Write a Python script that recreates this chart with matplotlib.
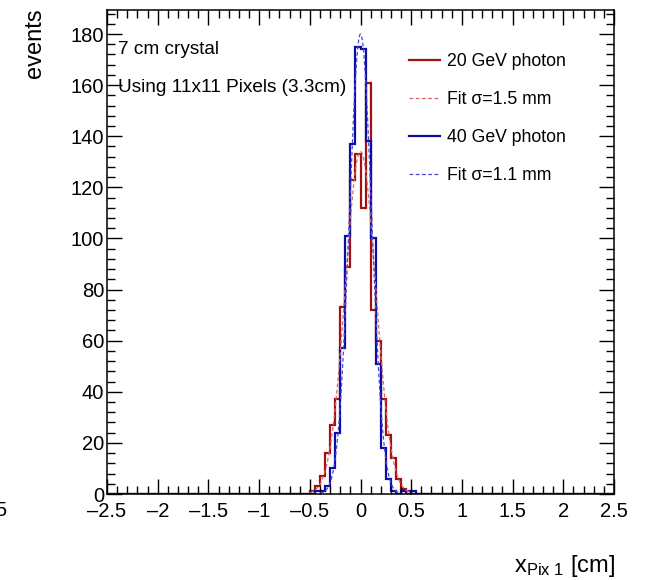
import numpy as np
import matplotlib.pyplot as plt
from matplotlib.ticker import MultipleLocator, FuncFormatter
from matplotlib.lines import Line2D

plt.rcParams['font.family'] = ['Liberation Sans', 'DejaVu Sans']
plt.rcParams['mathtext.fontset'] = 'custom'
plt.rcParams['mathtext.rm'] = 'Liberation Sans'
plt.rcParams['mathtext.it'] = 'Liberation Sans'

# histogram binning: 100 bins over [-2.5, 2.5] cm, only the middle ones are filled
x_min, x_max, n_bins = -2.5, 2.5, 100
first_filled = -0.5   # left edge of the first listed bin
counts_20gev = [1, 3, 7, 16, 27, 37, 73, 89, 123, 133, 112, 161, 72, 60, 37, 23, 14, 6, 2, 1, 0]
counts_40gev = [0, 1, 1, 3, 10, 24, 57, 101, 137, 175, 174, 138, 100, 51, 18, 6, 1, 0, 1, 0, 1]

# gaussian fits: (amplitude, mean [cm], sigma [cm]) and fit range
fit_20gev = (134, 0.0, 0.15)
fit_40gev = (180, 0.0, 0.11)
range_20gev = (-0.5, 0.5)
range_40gev = (-0.4, 0.4)

labels = ['20 GeV photon', 'Fit \u03c3=1.5 mm', '40 GeV photon', 'Fit \u03c3=1.1 mm']
notes = ['7 cm crystal', 'Using 11x11 Pixels (3.3cm)']

red = '#a31010'
red_fit = '#d06a6a'
blue = '#0c0ca6'
blue_fit = '#4a4ad0'


def full_hist(counts):
    edges = np.linspace(x_min, x_max, n_bins + 1)
    h = np.zeros(n_bins)
    i0 = int(round((first_filled - x_min) / (edges[1] - edges[0])))
    h[i0:i0 + len(counts)] = counts
    return h, edges


def gauss(par, rng):
    a, mu, s = par
    xs = np.linspace(rng[0], rng[1], 200)
    return xs, a * np.exp(-0.5 * ((xs - mu) / s) ** 2)


W, H = 651, 580
L, R, T, B = 107, 614, 10, 494   # axes frame in pixels
fig = plt.figure(figsize=(W / 100, H / 100), dpi=100)
ax = fig.add_axes([L / W, 1 - B / H, (R - L) / W, (B - T) / H])


def px(x, y):
    # pixel position -> axes fraction
    return (x - L) / (R - L), (B - y) / (B - T)


h_red, edges = full_hist(counts_20gev)
h_blue, _ = full_hist(counts_40gev)
ax.stairs(h_red, edges, color=red, lw=1.6)
xs, ys = gauss(fit_20gev, range_20gev)
ax.plot(xs, ys, color=red_fit, lw=0.9, ls=(0, (3, 2)))
ax.stairs(h_blue, edges, color=blue, lw=1.6)
xs, ys = gauss(fit_40gev, range_40gev)
ax.plot(xs, ys, color=blue_fit, lw=0.9, ls=(0, (3, 2)))

ax.set_xlim(x_min, x_max)
ax.set_ylim(0, 189.4)
ax.xaxis.set_major_locator(MultipleLocator(0.5))
ax.xaxis.set_minor_locator(MultipleLocator(0.1))
ax.yaxis.set_major_locator(MultipleLocator(20))
ax.yaxis.set_minor_locator(MultipleLocator(4))
fmt = FuncFormatter(lambda v, p: ('%g' % v).replace('-', '\u2013'))
ax.xaxis.set_major_formatter(fmt)
ax.yaxis.set_major_formatter(fmt)
ax.tick_params(which='both', direction='in', top=True, right=True, width=1, labelsize=14.5)
ax.tick_params(which='major', length=10.5)
ax.tick_params(which='minor', length=5.8)
ax.tick_params(axis='x', which='major', pad=6)
ax.tick_params(axis='y', which='major', pad=2)
for sp in ax.spines.values():
    sp.set_linewidth(1.1)

# legend
handles = [Line2D([], [], color=red, lw=1.6),
           Line2D([], [], color=red_fit, lw=0.9, ls=(0, (3, 2))),
           Line2D([], [], color=blue, lw=1.6),
           Line2D([], [], color=blue_fit, lw=0.9, ls=(0, (3, 2)))]
ax.legend(handles, labels, loc='upper left', bbox_to_anchor=px(409, 53),
          frameon=False, fontsize=12.7, handlelength=1.75, handletextpad=0.4,
          labelspacing=1.2, borderpad=0, borderaxespad=0)

ax.text(*px(118, 50), notes[0], transform=ax.transAxes,
        fontsize=13.7, va='center', ha='left')
ax.text(*px(118, 87), notes[1], transform=ax.transAxes,
        fontsize=13.7, va='center', ha='left')

fig.text(35 / W, 1 - 8 / H, 'events', rotation=90, ha='center', va='top', fontsize=17)
fig.text(615 / W, 1 - 572 / H, r'x$_{\mathrm{Pix\ 1}}$ [cm]', ha='right', va='baseline', fontsize=17)
fig.text(6 / W, 1 - 511 / H, '5', ha='right', va='center', fontsize=14.5)

fig.savefig('out.png', dpi=100)
